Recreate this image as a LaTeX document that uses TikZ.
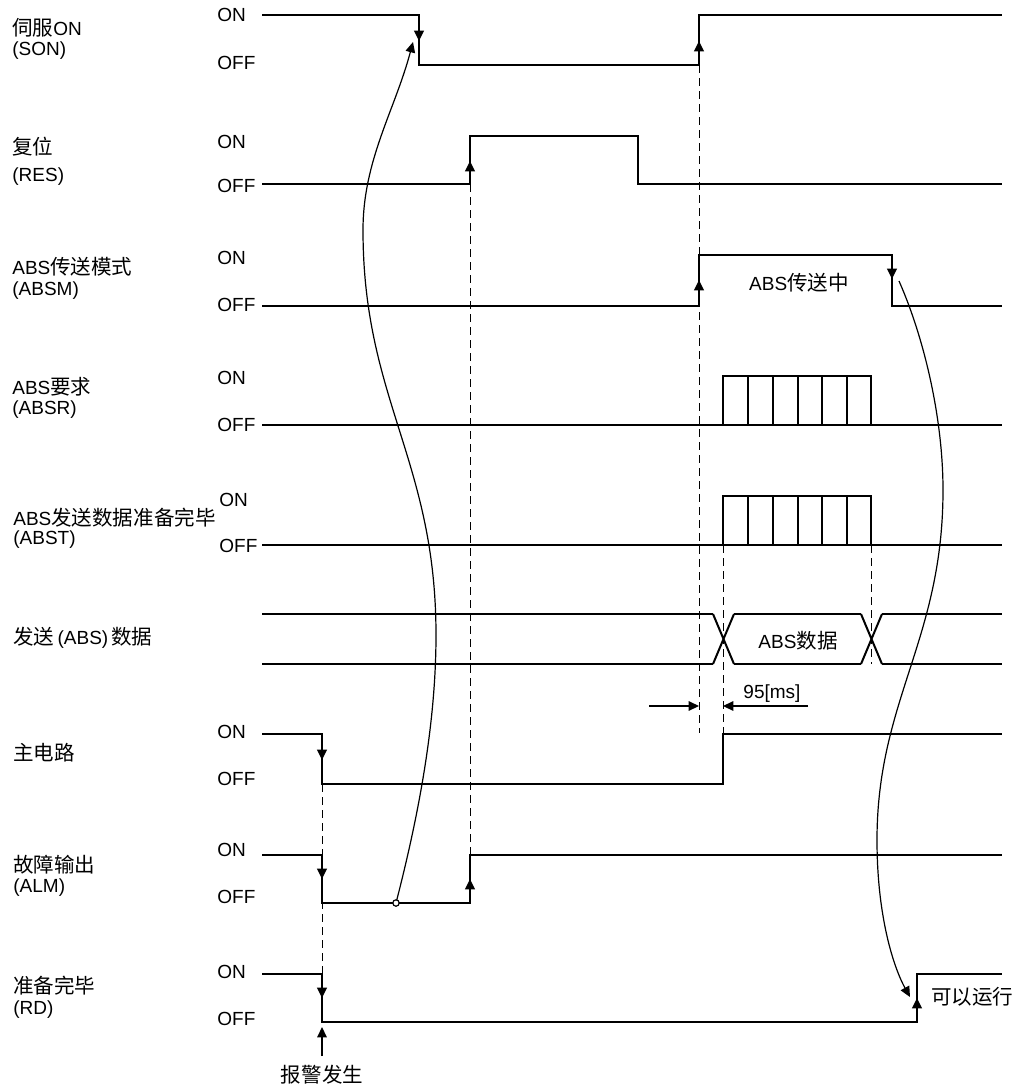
\documentclass[tikz,border=0pt]{standalone}
\usepackage{fontspec}
\setmainfont{Liberation Sans}
\newfontfamily\cjk[Scale=1.08]{Noto Sans CJK SC}
\usetikzlibrary{arrows.meta}
\newcommand{\zh}[1]{{\cjk #1}}
\begin{document}
\begin{tikzpicture}[x=0.5pt,y=-0.5pt,
  sig/.style={line width=1pt},
  thinline/.style={line width=0.6pt},
  guide/.style={line width=0.5pt, dash pattern=on 4pt off 2.5pt},
  tip/.style={-{Triangle[length=5.2pt,width=4.8pt]}},
  lab/.style={inner sep=0pt, anchor=west, font=\fontsize{9.5}{11}\selectfont},
  mid/.style={inner sep=0pt, font=\fontsize{9.5}{11}\selectfont}]
\useasboundingbox (0,0) rectangle (1022,1088);
% guide lines
\draw[guide] (699,65) -- (699,733);
\draw[guide] (723,545) -- (723,734);
\draw[guide] (871,545) -- (871,664);
\draw[guide] (470,184) -- (470,855);
\draw[guide] (322,784) -- (322,1022);
% signal names
\node[lab] (son1) at (12,28) {\zh{伺服}ON};
\node[lab] (son2) at (12,51) {(SON)};
\node[lab] (res1) at (12,147) {\zh{复位}};
\node[lab] (res2) at (12,177) {(RES)};
\node[lab] (absm1) at (12,267) {ABS\zh{传送模式}};
\node[lab] (absm2) at (12,291) {(ABSM)};
\node[lab] (absr1) at (12,387) {ABS\zh{要求}};
\node[lab] (absr2) at (12,410) {(ABSR)};
\node[lab] (abst1) at (13,518) {ABS\zh{发送数据准备完毕}};
\node[lab] (abst2) at (13,540) {(ABST)};
\node[lab] (data) at (13,638) {\zh{发送}\,(ABS)\,\zh{数据}};
\node[lab] (mc) at (13,753) {\zh{主电路}};
\node[lab] (alm1) at (13,865) {\zh{故障输出}};
\node[lab] (alm2) at (13,888) {(ALM)};
\node[lab] (rd1) at (13,986) {\zh{准备完毕}};
\node[lab] (rd2) at (13,1010) {(RD)};
% ON / OFF levels
\foreach \n/\on/\off/\xx in {son/15/63/217, res/142/186/217, absm/258/305/217, absr/378/425/217,
    abst/500/546/219, mc/732/779/217, alm/850/897/217, rd/972/1019/217} {
  \node[lab] (\n on) at (\xx,\on) {ON};
  \node[lab] (\n off) at (\xx,\off) {OFF};
}
% waveforms
\draw[sig] (262,15) -- (419,15) -- (419,65) -- (699,65) -- (699,15) -- (1002,15);
\draw[sig] (262,184) -- (470,184) -- (470,136) -- (638,136) -- (638,184) -- (1002,184);
\draw[sig] (262,306) -- (699,306) -- (699,255) -- (892,255) -- (892,306) -- (1002,306);
\draw[sig] (262,425) -- (1002,425);
\draw[sig] (723,425) rectangle (871,376);
\draw[sig] (262,545) -- (1002,545);
\draw[sig] (723,545) rectangle (871,496);
\foreach \x in {748,773,798,822,847} {
  \draw[sig] (\x,376) -- (\x,425);
  \draw[sig] (\x,496) -- (\x,545);
}
\foreach \y in {614,664} {
  \draw[sig] (262,\y) -- (713,\y);
  \draw[sig] (734,\y) -- (861,\y);
  \draw[sig] (882,\y) -- (1002,\y);
}
\draw[sig] (713,614) -- (734,664) (734,614) -- (713,664);
\draw[sig] (861,614) -- (882,664) (882,614) -- (861,664);
\draw[sig] (262,734) -- (322,734) -- (322,784) -- (723,784) -- (723,734) -- (1002,734);
\draw[sig] (262,855) -- (322,855) -- (322,903) -- (470,903) -- (470,855) -- (1002,855);
\draw[sig] (262,974) -- (322,974) -- (322,1022) -- (917,1022) -- (917,974) -- (1002,974);
% edge arrows
\foreach \x/\a/\b in {419/15/41, 699/65/41, 470/184/161, 699/306/280, 892/255/279,
    322/734/760, 322/855/879, 470/903/879, 322/974/998, 917/1022/998}
  \draw[sig,tip] (\x,\a) -- (\x,\b);
% inner texts
\node[mid] (absmtxt) at (799,283) {ABS\zh{传送中}};
\node[mid] (datatxt) at (798,641) {ABS\zh{数据}};
\node[lab] (ready) at (931,997) {\zh{可以运行}};
% 95 ms
\coordinate (dl) at (649,706);
\coordinate (dr) at (808,706);
\draw[thinline,tip] (dl) -- (699,706);
\draw[thinline,tip] (dr) -- (723,706);
\node[mid] (ms) at (772,694) {95[ms]};
% alarm
\node[mid] (alarm) at (322,1075) {\zh{报警发生}};
\draw[thinline,tip] (322,1056) -- (322,1027);
% causal curves
\coordinate (almo) at (396,903);
\coordinate (sonf) at (413,42);
\coordinate (absmf) at (899,281);
\coordinate (rdr) at (910,997);
\draw[thinline,tip] (almo) .. controls (420,810) and (436,720) .. (436,635)
  .. controls (436,460) and (363,400) .. (363,230)
  .. controls (363,160) and (395,110) .. (sonf);
\draw[thinline,fill=white] (almo) circle (1.6pt);
\draw[thinline,tip] (absmf) .. controls (925,340) and (943,420) .. (943,490)
  .. controls (943,640) and (877,700) .. (877,840)
  .. controls (877,920) and (895,970) .. (rdr);
\end{tikzpicture}
\end{document}
